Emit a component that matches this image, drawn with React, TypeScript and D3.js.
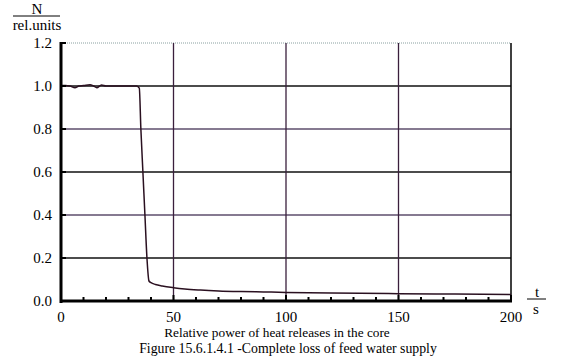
import React from "react";
import * as d3 from "d3";

const tValues = [0, 2, 4, 6.2, 8, 10, 12.9, 14.5, 15.9, 18, 20, 25, 30, 33.6, 34.8, 35.5, 36.4, 37.3, 38.2, 39.1, 40, 42, 45, 50, 55, 62, 70, 80, 90, 100, 120, 150, 175, 200];
const nValues = [1.002, 1.002, 1.0, 0.992, 1.0, 1.002, 1.006, 1.0, 0.992, 1.005, 1.0, 1.0, 1.0, 1.0, 0.99, 0.8, 0.6, 0.4, 0.2, 0.093, 0.085, 0.077, 0.07, 0.062, 0.056, 0.051, 0.047, 0.044, 0.042, 0.040, 0.037, 0.034, 0.032, 0.030];
const yTicks = [0, 0.2, 0.4, 0.6, 0.8, 1.0, 1.2];
const xTicks = [0, 50, 100, 150, 200];
const xMinor = d3.range(0, 201, 10);

export default function App() {
  const x = d3.scaleLinear().domain([0, 200]).range([61, 511]);
  const y = d3.scaleLinear().domain([0, 1.2]).range([301, 43]);
  const line = d3.line<number>().x((_, i) => x(tValues[i])).y((d) => y(d)).curve(d3.curveMonotoneX);
  const font = "'Liberation Serif', 'Times New Roman', serif";
  return (
    <svg width={567} height={361} style={{ position: "fixed", left: 0, top: 0, background: "#fff" }} fontFamily={font}>
      {yTicks.filter((v) => v > 0 && v < 1.2).map((v) => (
        <line key={"h" + v} x1={x(0)} x2={x(200)} y1={y(v)} y2={y(v)}
          stroke={Math.abs(v - 0.8) < 1e-6 || Math.abs(v - 0.4) < 1e-6 ? "#5e4e6c" : "#111"} strokeWidth={1.5} />
      ))}
      <line x1={x(0)} x2={x(200)} y1={y(1.2)} y2={y(1.2)} stroke="#8aa0a0" strokeWidth={1} strokeDasharray="1 1" />
      {xTicks.filter((v) => v > 0 && v < 200).map((v) => (
        <line key={"v" + v} x1={x(v)} x2={x(v)} y1={y(1.2)} y2={y(0)} stroke="#3a1f3c" strokeWidth={1.3} />
      ))}
      <line x1={x(200)} x2={x(200)} y1={y(1.2)} y2={y(0)} stroke="#000" strokeWidth={1.5} />
      <path d={line(nValues) || ""} fill="none" stroke="#2a1020" strokeWidth={1.5} />
      <line x1={x(0)} x2={x(0)} y1={y(1.2) - 1} y2={y(0) + 2} stroke="#000" strokeWidth={3} />
      <line x1={x(0) - 1} x2={x(200) + 1} y1={y(0)} y2={y(0)} stroke="#000" strokeWidth={3} />
      {xMinor.map((v) => (
        <line key={"m" + v} x1={x(v)} x2={x(v)} y1={y(0)} y2={y(0) - (v % 50 === 0 ? 6 : 4)} stroke="#000" strokeWidth={2} />
      ))}
      {yTicks.map((v) => (
        <line key={"yt" + v} x1={x(0)} x2={x(0) + 5} y1={y(v)} y2={y(v)} stroke="#000" strokeWidth={2} />
      ))}
      {yTicks.map((v) => (
        <text key={"yl" + v} x={52} y={y(v) + 5} textAnchor="end" fontSize={15}>{v.toFixed(1)}</text>
      ))}
      {xTicks.map((v) => (
        <text key={"xl" + v} x={x(v)} y={322} textAnchor="middle" fontSize={15}>{v}</text>
      ))}
      <text x={37} y={14} textAnchor="middle" fontSize={15}>N</text>
      <line x1={13} x2={60} y1={16} y2={16} stroke="#000" strokeWidth={1} />
      <text x={37} y={30} textAnchor="middle" fontSize={15}>rel.units</text>
      <text x={537} y={297} textAnchor="middle" fontSize={15}>t</text>
      <line x1={527} x2={546} y1={299} y2={299} stroke="#000" strokeWidth={1} />
      <text x={536} y={314} textAnchor="middle" fontSize={15}>s</text>
      <text x={277} y={337} textAnchor="middle" fontSize={13.3}>Relative power of heat releases in the core</text>
      <text x={288} y={353} textAnchor="middle" fontSize={13.8}>Figure 15.6.1.4.1 -Complete loss of feed water supply</text>
    </svg>
  );
}
